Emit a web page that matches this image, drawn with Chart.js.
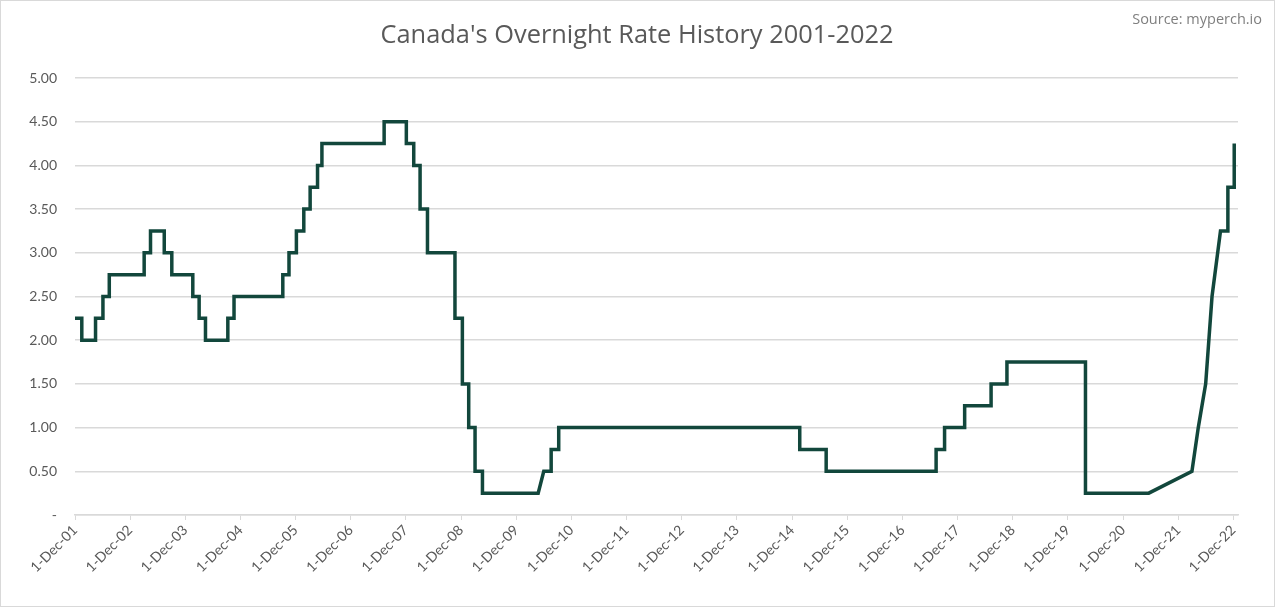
<!DOCTYPE html>
<html>
<head>
<meta charset="utf-8">
<script src="https://cdn.jsdelivr.net/npm/chart.js@4"></script>
<style>
  html, body { margin: 0; padding: 0; background: #fff; }
  #wrap { width: 1275px; height: 607px; position: relative; }
</style>
</head>
<body>
<div id="wrap"><canvas id="rateChart"></canvas></div>
<script>
/* --------------------------------------------
   Datos: fechas de cambio y tasa (%)
   (cada escalón = dos puntos con la misma fecha)
-------------------------------------------- */
const rateDates = [
    "2001-12-01", "2002-01-15", "2002-01-15", "2002-04-16", "2002-04-16",
    "2002-06-04", "2002-06-04", "2002-07-16", "2002-07-16", "2003-03-04",
    "2003-03-04", "2003-04-15", "2003-04-15", "2003-07-15", "2003-07-15",
    "2003-09-03", "2003-09-03", "2004-01-20", "2004-01-20", "2004-03-02",
    "2004-03-02", "2004-04-13", "2004-04-13", "2004-09-08", "2004-09-08",
    "2004-10-19", "2004-10-19", "2005-09-07", "2005-09-07", "2005-10-18",
    "2005-10-18", "2005-12-06", "2005-12-06", "2006-01-24", "2006-01-24",
    "2006-03-07", "2006-03-07", "2006-04-25", "2006-04-25", "2006-05-24",
    "2006-05-24", "2007-07-10", "2007-07-10", "2007-12-04", "2007-12-04",
    "2008-01-22", "2008-01-22", "2008-03-04", "2008-03-04", "2008-04-22",
    "2008-04-22", "2008-10-21", "2008-10-21", "2008-12-09", "2008-12-09",
    "2009-01-20", "2009-01-20", "2009-03-03", "2009-03-03", "2009-04-21",
    "2009-04-21", "2010-04-25", "2010-06-01", "2010-07-20", "2010-07-20",
    "2010-09-08", "2010-09-08", "2015-01-21", "2015-01-21", "2015-07-15",
    "2015-07-15", "2017-07-12", "2017-07-12", "2017-09-06", "2017-09-06",
    "2018-01-17", "2018-01-17", "2018-07-11", "2018-07-11", "2018-10-24",
    "2018-10-24", "2020-03-27", "2020-03-27", "2021-05-20", "2022-03-02",
    "2022-04-13", "2022-06-01", "2022-07-13", "2022-09-07", "2022-10-26",
    "2022-10-26", "2022-12-07", "2022-12-07"
];

const rateValues = [
    2.25, 2.25, 2.00, 2.00, 2.25,
    2.25, 2.50, 2.50, 2.75, 2.75,
    3.00, 3.00, 3.25, 3.25, 3.00,
    3.00, 2.75, 2.75, 2.50, 2.50,
    2.25, 2.25, 2.00, 2.00, 2.25,
    2.25, 2.50, 2.50, 2.75, 2.75,
    3.00, 3.00, 3.25, 3.25, 3.50,
    3.50, 3.75, 3.75, 4.00, 4.00,
    4.25, 4.25, 4.50, 4.50, 4.25,
    4.25, 4.00, 4.00, 3.50, 3.50,
    3.00, 3.00, 2.25, 2.25, 1.50,
    1.50, 1.00, 1.00, 0.50, 0.50,
    0.25, 0.25, 0.50, 0.50, 0.75,
    0.75, 1.00, 1.00, 0.75, 0.75,
    0.50, 0.50, 0.75, 0.75, 1.00,
    1.00, 1.25, 1.25, 1.50, 1.50,
    1.75, 1.75, 0.25, 0.25, 0.50,
    1.00, 1.50, 2.50, 3.25, 3.25,
    3.75, 3.75, 4.25
];

/* Marcas del eje X: 1 de diciembre de cada año */
const tickYears = [2001, 2002, 2003, 2004, 2005, 2006, 2007, 2008, 2009, 2010, 2011,
                   2012, 2013, 2014, 2015, 2016, 2017, 2018, 2019, 2020, 2021, 2022];

const yTicks = [0, 0.5, 1, 1.5, 2, 2.5, 3, 3.5, 4, 4.5, 5];

const TITLE = "Canada's Overnight Rate History 2001-2022";
const SOURCE = "Source: myperch.io";

/* --------------------------------------------
   Helpers
-------------------------------------------- */
const toMs = (s) => {
    const [y, m, d] = s.split("-").map(Number);
    return Date.UTC(y, m - 1, d);
};
const points = rateDates.map((d, i) => ({ x: toMs(d), y: rateValues[i] }));
const tickMs = tickYears.map(y => Date.UTC(y, 11, 1));
const fmtTick = (ms) => "1-Dec-" + String(new Date(ms).getUTCFullYear() % 100).padStart(2, "0");

const FONT = "'Open Sans', Lato, sans-serif";
const TICKFONT = "Lato, 'Open Sans', sans-serif";
const GRID = "#d9d9d9";
const TEXT = "#595959";

/* Título, fuente y marco del gráfico */
const decorPlugin = {
    id: "decor",
    beforeDraw(chart) {
        const c = chart.ctx;
        c.save();
        c.fillStyle = "#ffffff";
        c.fillRect(0, 0, chart.width, chart.height);
        c.restore();
    },
    afterDraw(chart) {
        const c = chart.ctx;
        c.save();
        c.strokeStyle = GRID;
        c.lineWidth = 1;
        c.strokeRect(0.5, 0.5, chart.width - 1, chart.height - 1);

        c.fillStyle = TEXT;
        c.font = "25.4px " + FONT;
        c.textAlign = "center";
        c.textBaseline = "middle";
        c.fillText(TITLE, 637, 36);

        c.fillStyle = "#7f7f7f";
        c.font = "14.5px " + FONT;
        c.textAlign = "right";
        c.fillText(SOURCE, 1262, 20);
        c.restore();
    }
};

const ctx = document.getElementById("rateChart");
new Chart(ctx, {
    type: "line",
    data: {
        datasets: [{
            data: points,
            borderColor: "#12473c",
            borderWidth: 3.5,
            pointRadius: 0,
            tension: 0,
            fill: false
        }]
    },
    options: {
        responsive: true,
        maintainAspectRatio: false,
        animation: false,
        devicePixelRatio: 1,
        layout: { padding: { top: 78, right: 37, bottom: 6, left: 0 } },
        plugins: {
            legend: { display: false },
            tooltip: { enabled: false }
        },
        scales: {
            x: {
                type: "linear",
                min: Date.UTC(2001, 11, 1),
                max: Date.UTC(2023, 0, 1),
                afterBuildTicks: (scale) => {
                    scale.ticks = tickMs.map(v => ({ value: v }));
                },
                afterFit: (scale) => { scale.height = 86; },
                ticks: {
                    callback: (v) => fmtTick(v),
                    minRotation: 45,
                    maxRotation: 45,
                    autoSkip: false,
                    color: TEXT,
                    font: { family: TICKFONT, size: 14 },
                    padding: 2
                },
                grid: {
                    display: true,
                    drawOnChartArea: false,
                    drawTicks: true,
                    tickLength: 5,
                    color: GRID
                },
                border: { display: true, color: GRID, width: 1.5 }
            },
            y: {
                min: 0,
                max: 5,
                afterBuildTicks: (scale) => {
                    scale.ticks = yTicks.map(v => ({ value: v }));
                },
                afterFit: (scale) => { scale.width = 75; },
                ticks: {
                    callback: (v) => v === 0 ? "-" : v.toFixed(2),
                    color: TEXT,
                    font: { family: TICKFONT, size: 14 },
                    padding: 18
                },
                grid: {
                    color: GRID,
                    lineWidth: 1.5,
                    drawTicks: false
                },
                border: { display: false }
            }
        }
    },
    plugins: [decorPlugin]
});
</script>
</body>
</html>
